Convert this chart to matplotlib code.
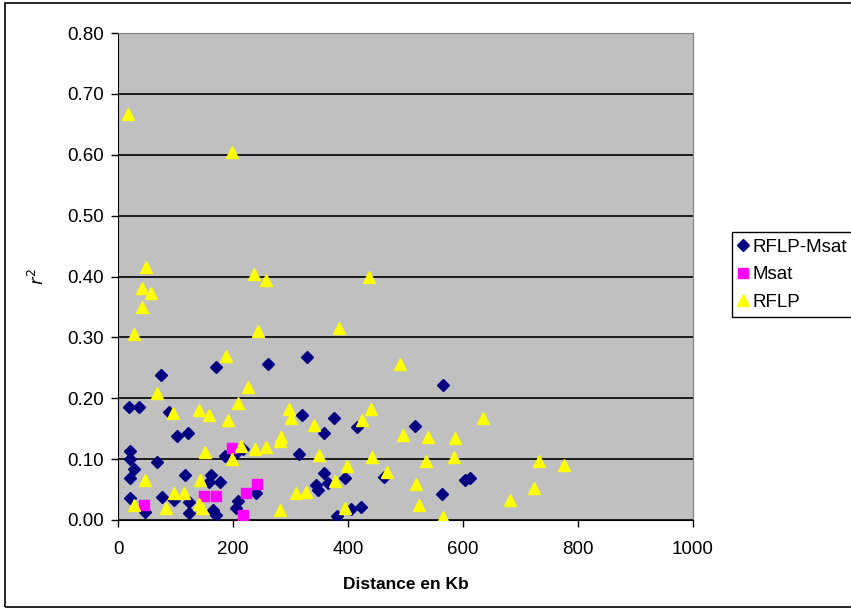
import matplotlib.pyplot as plt
from matplotlib.patches import Rectangle

plt.rcParams['font.family'] = ['Liberation Sans', 'DejaVu Sans']

# RFLP-Msat (diamonds)
rm_x = [19, 37, 20, 20, 27, 20, 20, 47, 75, 88, 103, 121, 68, 77, 98, 116, 123, 123,
        171, 161, 158, 178, 165, 171, 186, 207, 218, 209, 206, 240, 261, 329, 314, 320,
        358, 375, 359, 365, 345, 347, 395, 380, 406, 423, 415, 463, 516, 566, 564, 604, 613]
rm_y = [0.186, 0.186, 0.113, 0.100, 0.084, 0.069, 0.036, 0.013, 0.238, 0.177, 0.138, 0.143,
        0.096, 0.038, 0.033, 0.074, 0.029, 0.012, 0.252, 0.074, 0.063, 0.063, 0.016, 0.008,
        0.105, 0.111, 0.116, 0.031, 0.019, 0.044, 0.257, 0.267, 0.108, 0.172, 0.143, 0.167,
        0.077, 0.060, 0.058, 0.050, 0.069, 0.007, 0.018, 0.022, 0.152, 0.071, 0.155, 0.221,
        0.043, 0.065, 0.069]

# Msat (squares)
ms_x = [46, 150, 170, 198, 218, 223, 241]
ms_y = [0.024, 0.039, 0.039, 0.119, 0.008, 0.044, 0.059]

# RFLP (triangles)
rf_x = [17, 199, 49, 42, 58, 42, 27, 237, 257, 436, 244, 385, 187, 491, 68, 226, 208, 95,
        141, 158, 191, 297, 300, 425, 440, 634, 340, 284, 282, 257, 214, 239, 151, 199,
        349, 442, 495, 539, 586, 584, 536, 732, 775, 398, 467, 518, 377, 724, 682, 524,
        566, 394, 310, 327, 282, 115, 98, 142, 47, 27, 83, 140, 146]
rf_y = [0.667, 0.605, 0.416, 0.381, 0.373, 0.350, 0.305, 0.404, 0.395, 0.400, 0.311, 0.316,
        0.269, 0.257, 0.209, 0.219, 0.193, 0.176, 0.180, 0.173, 0.164, 0.183, 0.168, 0.164,
        0.183, 0.168, 0.156, 0.137, 0.130, 0.120, 0.122, 0.116, 0.112, 0.101, 0.107, 0.104,
        0.140, 0.137, 0.134, 0.104, 0.097, 0.097, 0.090, 0.088, 0.079, 0.059, 0.064, 0.052,
        0.033, 0.024, 0.005, 0.019, 0.045, 0.046, 0.017, 0.045, 0.044, 0.065, 0.065, 0.024,
        0.020, 0.027, 0.020]

yticks = [0.0, 0.1, 0.2, 0.3, 0.4, 0.5, 0.6, 0.7, 0.8]
xticks = [0, 200, 400, 600, 800, 1000]

fig = plt.figure(figsize=(8.51, 6.09), dpi=100)
ax = fig.add_axes([118 / 851, 1 - 520 / 609, 575 / 851, 487 / 609])
ax.set_facecolor('#c0c0c0')

ax.plot(rm_x, rm_y, 'D', color='#000080', ms=6, mec='#000080', label='RFLP-Msat', zorder=3)
ax.plot(ms_x, ms_y, 's', color='#ff00ff', ms=6.5, mec='#ff00ff', label='Msat', zorder=3)
ax.plot(rf_x, rf_y, '^', color='#ffff00', ms=8, mec='#ffff00', label='RFLP', zorder=3)

ax.set_xlim(0, 1000)
ax.set_ylim(0, 0.8)
ax.set_xticks(xticks)
ax.set_yticks(yticks)
ax.set_yticklabels([f'{v:.2f}' for v in yticks])
ax.tick_params(labelsize=13.5, direction='out', length=5, width=1, pad=5)
ax.tick_params(axis='x', pad=10)
ax.yaxis.grid(True, color='black', linewidth=1.2)
ax.set_axisbelow(True)
for s in ['top', 'right']:
    ax.spines[s].set_color('#808080')
ax.spines['left'].set_color('black')
ax.spines['bottom'].set_color('black')

ax.set_xlabel('Distance en Kb', fontsize=12.5, fontweight='bold', labelpad=14)
ax.set_ylabel(r'$r^{2}$', fontsize=13, labelpad=14)

fig.legend(loc='upper left', bbox_to_anchor=(732 / 851, 1 - 232 / 609), fontsize=13.5,
           frameon=True, fancybox=False, edgecolor='black', framealpha=1,
           handlelength=0.5, handletextpad=0.25, borderpad=0.35, labelspacing=0.55,
           borderaxespad=0)

# outer chart border
fig.patches.append(Rectangle((5 / 851, 2 / 609), 1.0, 1 - 5 / 609, transform=fig.transFigure,
                             fill=False, edgecolor='black', linewidth=1.2))

fig.savefig('out.png', dpi=100)
